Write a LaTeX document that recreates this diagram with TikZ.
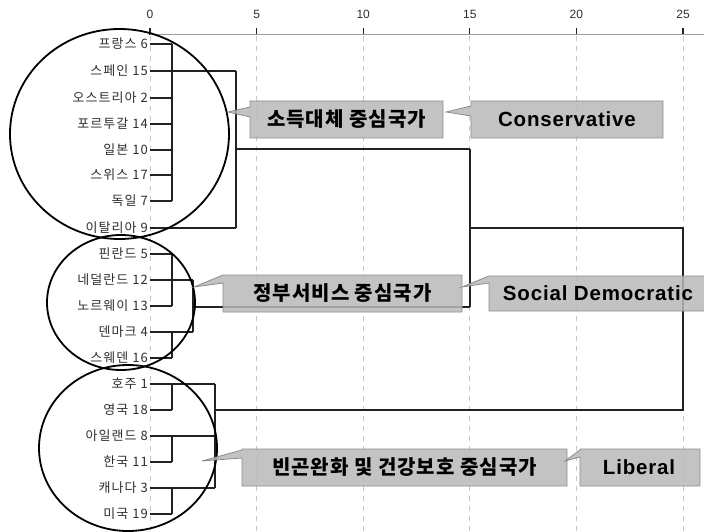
\documentclass[tikz,border=0pt]{standalone}
\usepackage{fontspec}
\setmainfont{Noto Sans CJK KR}
\newfontfamily\labfont{Noto Sans CJK KR}[LetterSpace=8]
\newfontfamily\kofont{Noto Sans CJK KR}[LetterSpace=5]
\newfontfamily\latinf{Liberation Sans}
\newfontfamily\latins{Liberation Sans}[LetterSpace=4]
\definecolor{labgray}{HTML}{2E2E2E}
\definecolor{gridc}{HTML}{C8C8C8}
\definecolor{axisc}{HTML}{A0A0A0}
\definecolor{boxfill}{HTML}{B9B9B9}
\definecolor{boxline}{HTML}{8C8C8C}
\definecolor{denc}{HTML}{222222}
\tikzset{
  lab/.style={anchor=east, inner sep=0pt, text=labgray, font=\labfont\fontsize{13}{15}\selectfont},
  ticklab/.style={inner sep=0pt, text=labgray, font=\latinf\fontsize{12}{14}\selectfont},
  den/.style={draw=denc, line width=1.5pt},
  grid/.style={draw=gridc, dashed, dash pattern=on 5pt off 5pt, line width=0.8pt},
  ring/.style={draw=black, line width=1.8pt},
  callbox/.style={draw=boxline, line width=0.8pt, fill=boxfill, fill opacity=0.85},
  kotext/.style={inner sep=0pt, font=\kofont\bfseries\fontsize{20}{22}\selectfont},
  entext/.style={inner sep=0pt, font=\latins\bfseries\fontsize{20.5}{22}\selectfont},
}
\newcommand\callshape[8]{\path[callbox] (#1,#2) -- (#3,#2) -- (#3,#4) -- (#1,#4) -- (#1,#8) -- (#5,#6) -- (#1,#7) -- cycle;}
\begin{document}
\begin{tikzpicture}[x=1pt,y=-1pt]
\useasboundingbox (0,0) rectangle (704,532);
% grid and axis
\foreach \v/\xx in {0/150,5/256.6,10/363.2,15/469.8,20/576.4,25/683} {
  \draw[grid] (\xx,36) -- (\xx,532);
  \node[ticklab] (t\v) at (\xx,14) {\v};
  \draw[draw=denc, line width=1.2pt] (\xx,28) -- (\xx,35);
}
\draw[draw=axisc, line width=1pt] (150,35) -- (704,35);
% leaf labels
\node[lab] (c6)  at (148,44)  {프랑스 6};
\node[lab] (c15) at (148,71)  {스페인 15};
\node[lab] (c2)  at (148,98)  {오스트리아 2};
\node[lab] (c14) at (148,124) {포르투갈 14};
\node[lab] (c10) at (148,150) {일본 10};
\node[lab] (c17) at (148,175) {스위스 17};
\node[lab] (c7)  at (148,201) {독일 7};
\node[lab] (c9)  at (148,228) {이탈리아 9};
\node[lab] (c5)  at (148,254) {핀란드 5};
\node[lab] (c12) at (148,280) {네덜란드 12};
\node[lab] (c13) at (148,306) {노르웨이 13};
\node[lab] (c4)  at (148,332) {덴마크 4};
\node[lab] (c16) at (148,358) {스웨덴 16};
\node[lab] (c1)  at (148,384) {호주 1};
\node[lab] (c18) at (148,410) {영국 18};
\node[lab] (c8)  at (148,436) {아일랜드 8};
\node[lab] (c11) at (148,462) {한국 11};
\node[lab] (c3)  at (148,488) {캐나다 3};
\node[lab] (c19) at (148,514) {미국 19};
% merge x positions
\coordinate (ma) at (172,0);
\coordinate (mb) at (193,0);
\coordinate (mc) at (215,0);
\coordinate (md) at (236,0);
\coordinate (me) at (470,0);
\coordinate (mf) at (683,0);
% cluster 1
\foreach \c in {c6,c2,c14,c10,c17,c7} { \draw[den] ([xshift=2pt]\c.east) -- (\c.east -| ma); }
\draw[den] (c6.east -| ma) -- (c7.east -| ma);
\foreach \c in {c15,c9} { \draw[den] ([xshift=2pt]\c.east) -- (\c.east -| md); }
\draw[den] (c15.east -| md) -- (c9.east -| md);
\coordinate (j1) at (236,149);
\draw[den] (j1) -- (j1 -| me);
% cluster 2
\foreach \c in {c5,c13,c16} { \draw[den] ([xshift=2pt]\c.east) -- (\c.east -| ma); }
\draw[den] (c5.east -| ma) -- (c13.east -| ma);
\foreach \c in {c12,c4} { \draw[den] ([xshift=2pt]\c.east) -- (\c.east -| mb); }
\draw[den] (c4.east -| ma) -- (c16.east -| ma);
\draw[den] (c12.east -| mb) -- (c4.east -| mb);
\coordinate (j2) at (193,307);
\draw[den] (j2) -- (j2 -| me);
\draw[den] (j1 -| me) -- (j2 -| me);
\coordinate (j3) at (470,228);
\draw[den] (j3) -- (j3 -| mf) -- (c18.east -| mf) -- (c18.east -| mc);
% cluster 3
\foreach \c in {c1,c8,c3} { \draw[den] ([xshift=2pt]\c.east) -- (\c.east -| mc); }
\foreach \c in {c18,c11,c19} { \draw[den] ([xshift=2pt]\c.east) -- (\c.east -| ma); }
\draw[den] (c1.east -| ma) -- (c18.east -| ma);
\draw[den] (c8.east -| ma) -- (c11.east -| ma);
\draw[den] (c3.east -| ma) -- (c19.east -| ma);
\draw[den] (c1.east -| mc) -- (c3.east -| mc);
% rings
\draw[ring] (119.5,134) ellipse [x radius=109.5, y radius=105];
\draw[ring] (121,302.5) ellipse [x radius=74, y radius=67.5];
\draw[ring] (128,448) ellipse [x radius=89, y radius=83];
% callouts
\callshape{250}{101}{443}{138}{228}{112}{107}{117}
\node[kotext] (k1) at (346.5,119.5) {소득대체 중심국가};
\callshape{471}{101}{663}{138}{446}{112}{106}{116}
\node[entext] (e1) at (567,119.5) {Conservative};
\callshape{223}{275}{462}{312}{194}{287}{275}{283}
\node[kotext] (k2) at (342.5,293.5) {정부서비스 중심국가};
\callshape{489}{276}{710}{311}{462}{287}{276}{283}
\node[entext] (e2) at (598,293.5) {Social Democratic};
\callshape{242}{449}{567}{486}{202}{461}{450}{458}
\node[kotext] (k3) at (404.5,467.5) {빈곤완화 및 건강보호 중심국가};
\callshape{580}{449}{700}{486}{565}{461}{450}{457}
\node[entext] (e3) at (639,467.5) {Liberal};
\end{tikzpicture}
\end{document}
